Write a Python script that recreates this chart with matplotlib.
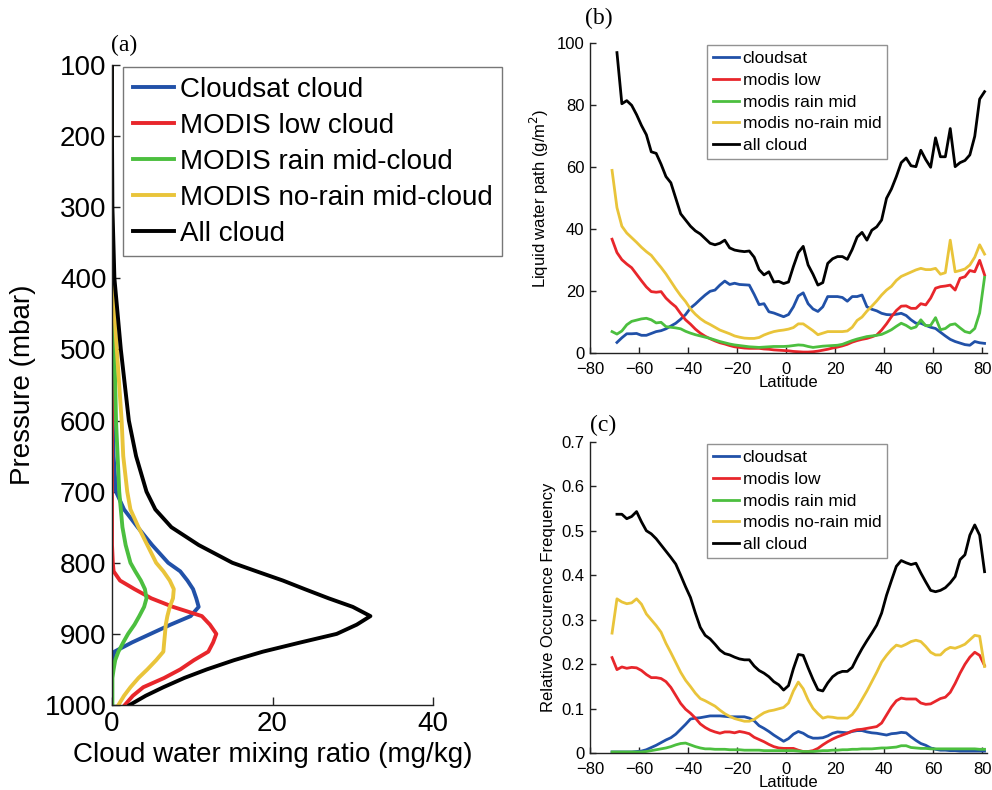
import numpy as np
import matplotlib
matplotlib.use("Agg")
import matplotlib.pyplot as plt

nan = np.nan

# ---------------- Panel (a) data ----------------
pressure = [100, 200, 300, 400, 450, 500, 550, 600, 650, 700, 725, 750, 775, 800, 812,
            825, 837, 850, 862, 875, 887, 900, 912, 925, 937, 950, 962, 975, 987, 1000]
a_cloudsat = [0, 0, 0, 0, 0, 0, 0, 0.1, 0.2, 0.5, 1.5, 3.2, 5.0, 7.0, 8.5,
              9.4, 10.1, 10.5, 10.8, 9.8, 7.3, 4.8, 2.5, 0.3, 0.1, 0, 0, 0, 0, 0]
a_modis_low = [0, 0, 0, 0, 0, 0, 0, 0, 0, 0, 0, 0, 0, 0.1, 0.2,
               1.0, 2.8, 4.9, 7.6, 11.2, 12.2, 13.0, 12.6, 12.0, 10.2, 8.5, 6.5, 3.9, 2.6, 1.6]
a_rain_mid = [0, 0, 0, 0, 0.1, 0.3, 0.4, 0.5, 0.7, 0.9, 1.1, 1.3, 1.7, 2.3, 2.9,
              3.6, 4.1, 4.3, 4.0, 3.4, 2.8, 2.0, 1.4, 0.8, 0.4, 0.2, 0.05, 0.05, 0.05, 0.05]
a_norain_mid = [0, 0, 0, 0.1, 0.3, 0.6, 0.9, 1.2, 1.4, 1.9, 2.3, 3.3, 4.4, 5.5, 6.4,
                7.2, 7.7, 7.6, 7.2, 6.9, 6.7, 6.6, 6.5, 6.4, 5.5, 4.4, 3.3, 2.3, 1.5, 0.8]
a_all = [0, 0, 0.05, 0.3, 0.7, 1.1, 1.6, 2.1, 3.0, 4.3, 5.4, 7.4, 10.8, 15.0, 18.0,
         21.3, 24.0, 27.0, 30.0, 32.2, 30.5, 28.0, 23.5, 18.8, 15.2, 11.8, 9.0, 6.4, 4.2, 2.2]
a_labels = ["Cloudsat cloud", "MODIS low cloud", "MODIS rain mid-cloud",
            "MODIS no-rain mid-cloud", "All cloud"]
a_xticks = [0, 20, 40]
a_yticks = [100, 200, 300, 400, 500, 600, 700, 800, 900, 1000]

# ---------------- Panels (b), (c) data ----------------
latitude = [-71, -69, -67, -65, -63, -61, -59, -57, -55, -53, -51, -49, -47, -45, -43, -41,
            -39, -37, -35, -33, -31, -29, -27, -25, -23, -21, -19, -17, -15, -13, -11, -9,
            -7, -5, -3, -1, 1, 3, 5, 7, 9, 11, 13, 15, 17, 19, 21, 23, 25, 27, 29, 31, 33,
            35, 37, 39, 41, 43, 45, 47, 49, 51, 53, 55, 57, 59, 61, 63, 65, 67, 69, 71, 73,
            75, 77, 79, 81]

b_cloudsat = [nan, 3.5, 5, 6.3, 6.3, 6.4, 5.8, 5.8, 6.4, 7, 7.3, 7.9, 8.8, 9.7, 11, 12.5,
              14.6, 15.9, 17.4, 18.8, 20, 20.4, 22, 23.3, 22.2, 22.6, 22.2, 22.1, 22, 19, 15.7, 16,
              13.4, 13, 12.4, 11.8, 12.5, 15, 18.5, 19.5, 16, 14.3, 13.5, 15, 18.3, 18.3, 18.3, 18,
              16.8, 18.3, 18.3, 18.8, 15, 14.2, 13.7, 12.9, 12.5, 12.4, 12.6, 12.9, 12.2, 10.8, 9.7,
              9.7, 9, 8.4, 8, 6.8, 5.6, 4.5, 3.8, 3.3, 2.8, 2.6, 3.8, 3.4, 3.2]
b_modis_low = [36.8, 32.5, 30.2, 28.8, 27.6, 25.5, 23.4, 21.4, 19.9, 19.7, 19.9, 17.8, 16.3, 15,
               12.8, 10.8, 9.4, 7.8, 6.5, 5.5, 4.7, 4, 3.4, 3, 2.5, 2.1, 1.9, 1.7, 1.6, 1.6, 1.6,
               1.4, 1.3, 1.1, 1.0, 0.9, 0.8, 0.6, 0.5, 0.4, 0.4, 0.5, 0.7, 1.0, 1.3, 1.7, 2.0, 2.4,
               2.9, 3.6, 4.1, 4.5, 4.8, 5.3, 5.9, 7.5, 9.5, 11.8, 13.8, 15.2, 15.3, 14.5, 14.5, 16,
               15.6, 17.8, 21, 21.5, 21.7, 22, 20.4, 24.2, 24.7, 26.7, 26.3, 30, 25.3]
b_rain_mid = [7, 6.2, 7.2, 9.2, 10.3, 10.7, 11.1, 11.3, 10.8, 9.8, 10, 8.6, 8.4, 8.2, 7.9, 7.1,
              6.5, 6, 5.6, 5.2, 4.8, 4.3, 3.8, 3.4, 3, 2.7, 2.5, 2.3, 2.1, 2, 1.9, 2, 2.1, 2.2,
              2.2, 2.2, 2.3, 2.5, 2.7, 2.6, 2.2, 1.9, 2.1, 2.3, 2.4, 2.5, 2.6, 2.9, 3.5, 4.1, 4.6,
              5, 5.4, 5.6, 5.8, 6.1, 6.8, 7.6, 8.7, 9.7, 9, 8, 8.5, 10.8, 8.9, 9, 11.5, 7.6, 8,
              9.2, 9.5, 8.2, 7, 6.6, 8, 13, 24.5]
b_norain_mid = [59, 47, 41, 38.8, 37.3, 35.8, 34.2, 32.8, 31.6, 29.6, 27.7, 25.6, 23.2, 20.8,
                18.6, 16.7, 14.3, 12.6, 11.2, 10.1, 9.3, 8.4, 7.5, 6.9, 6.3, 5.6, 5.2, 4.9, 4.8,
                4.8, 5.1, 5.9, 6.5, 7, 7.3, 7.5, 7.8, 8.3, 9.5, 9.5, 8.4, 7.3, 6, 6.5, 7, 7, 7, 7,
                7.2, 8.4, 10.6, 11.7, 13.6, 15.2, 16.9, 18.8, 20.4, 21.6, 23.5, 24.8, 25.5, 26.2,
                26.9, 27.4, 27, 27, 27.4, 25.5, 26, 36.5, 26.3, 26.7, 27.2, 28.5, 31, 35, 32]
b_all = [nan, 97, 80.5, 81.5, 80, 77, 73.5, 70.5, 65, 64.5, 61, 57, 55, 50, 45, 43, 41, 39.5,
         38.5, 37, 35.5, 35, 35.5, 36.5, 34, 33.3, 33, 32.8, 33, 31, 27, 25.3, 26.3, 23, 23.2,
         22.5, 23, 28, 32.5, 34.5, 28.5, 25.5, 22, 22.8, 29, 30.5, 31.2, 31.2, 30.3, 33.5, 37.5,
         39, 36.5, 39.7, 40.8, 43, 50, 53, 57, 61.5, 63, 60.5, 60.2, 65.5, 62.5, 60, 69.5, 63.4,
         63.4, 72.5, 60.2, 61.5, 62.2, 64, 70, 82, 84.4]

c_cloudsat = [0.003, 0.003, 0.003, 0.003, 0.003, 0.004, 0.005, 0.008, 0.013, 0.018, 0.024, 0.03,
              0.035, 0.043, 0.054, 0.065, 0.077, 0.079, 0.08, 0.082, 0.084, 0.084, 0.084, 0.083,
              0.082, 0.082, 0.082, 0.082, 0.079, 0.073, 0.062, 0.056, 0.049, 0.041, 0.034, 0.027,
              0.033, 0.043, 0.049, 0.045, 0.038, 0.034, 0.034, 0.035, 0.039, 0.045, 0.048, 0.047,
              0.046, 0.049, 0.051, 0.051, 0.048, 0.046, 0.045, 0.043, 0.041, 0.044, 0.045, 0.047,
              0.046, 0.037, 0.029, 0.022, 0.018, 0.012, 0.009, 0.007, 0.007, 0.006, 0.006, 0.005,
              0.005, 0.005, 0.005, 0.005, 0.005]
c_modis_low = [0.215, 0.188, 0.194, 0.191, 0.193, 0.192, 0.186, 0.177, 0.17, 0.17, 0.168, 0.161,
               0.148, 0.13, 0.112, 0.099, 0.09, 0.079, 0.066, 0.058, 0.052, 0.048, 0.045, 0.048,
               0.048, 0.046, 0.049, 0.047, 0.044, 0.036, 0.031, 0.026, 0.02, 0.015, 0.012, 0.011,
               0.011, 0.011, 0.007, 0.004, 0.004, 0.006, 0.011, 0.019, 0.026, 0.032, 0.037, 0.041,
               0.045, 0.05, 0.053, 0.054, 0.056, 0.058, 0.06, 0.068, 0.086, 0.104, 0.118, 0.124,
               0.122, 0.122, 0.122, 0.113, 0.11, 0.111, 0.117, 0.123, 0.126, 0.137, 0.157, 0.18,
               0.2, 0.216, 0.227, 0.22, 0.197]
c_rain_mid = [0.003, 0.003, 0.003, 0.003, 0.003, 0.003, 0.003, 0.004, 0.006, 0.008, 0.01, 0.012,
              0.015, 0.019, 0.022, 0.023, 0.019, 0.015, 0.012, 0.01, 0.01, 0.009, 0.009, 0.009,
              0.008, 0.008, 0.008, 0.007, 0.007, 0.007, 0.007, 0.006, 0.006, 0.006, 0.006, 0.006,
              0.006, 0.006, 0.005, 0.004, 0.004, 0.004, 0.005, 0.006, 0.006, 0.007, 0.007, 0.008,
              0.008, 0.009, 0.009, 0.01, 0.01, 0.01, 0.011, 0.012, 0.012, 0.013, 0.014, 0.017,
              0.017, 0.013, 0.012, 0.011, 0.011, 0.01, 0.01, 0.01, 0.01, 0.01, 0.01, 0.01, 0.01,
              0.01, 0.01, 0.009, 0.009]
c_norain_mid = [0.27, 0.347, 0.34, 0.336, 0.338, 0.347, 0.335, 0.313, 0.3, 0.287, 0.272, 0.247,
                0.226, 0.204, 0.182, 0.164, 0.15, 0.135, 0.123, 0.118, 0.112, 0.106, 0.097, 0.089,
                0.083, 0.078, 0.075, 0.072, 0.072, 0.076, 0.084, 0.091, 0.095, 0.097, 0.1, 0.103,
                0.113, 0.14, 0.16, 0.145, 0.12, 0.101, 0.089, 0.079, 0.082, 0.081, 0.079, 0.079,
                0.079, 0.087, 0.102, 0.121, 0.14, 0.161, 0.182, 0.205, 0.22, 0.233, 0.243, 0.24,
                0.245, 0.251, 0.254, 0.251, 0.24, 0.227, 0.221, 0.221, 0.232, 0.238, 0.236, 0.24,
                0.245, 0.255, 0.265, 0.263, 0.195]
c_all = [nan, 0.537, 0.537, 0.527, 0.532, 0.543, 0.52, 0.5, 0.493, 0.482, 0.468, 0.454, 0.44,
         0.425, 0.4, 0.374, 0.35, 0.315, 0.283, 0.265, 0.257, 0.245, 0.232, 0.224, 0.221, 0.216,
         0.212, 0.21, 0.21, 0.196, 0.186, 0.18, 0.172, 0.161, 0.154, 0.142, 0.152, 0.19, 0.222,
         0.22, 0.192, 0.166, 0.143, 0.14, 0.158, 0.172, 0.18, 0.184, 0.184, 0.193, 0.215, 0.235,
         0.253, 0.27, 0.288, 0.315, 0.355, 0.388, 0.42, 0.433, 0.428, 0.424, 0.427, 0.405, 0.385,
         0.366, 0.363, 0.366, 0.372, 0.383, 0.397, 0.435, 0.446, 0.49, 0.513, 0.49, 0.408]

bc_labels = ["cloudsat", "modis low", "modis rain mid", "modis no-rain mid", "all cloud"]
lat_ticks = [-80, -60, -40, -20, 0, 20, 40, 60, 80]
b_yticks = [0, 20, 40, 60, 80, 100]
c_yticks = [0, 0.1, 0.2, 0.3, 0.4, 0.5, 0.6, 0.7]
c_yticklabels = ["0", "0.1", "0.2", "0.3", "0.4", "0.5", "0.6", "0.7"]

colors = ["#2151a8", "#e8262b", "#4cbf3f", "#e9c43a", "#000000"]

# ---------------- Figure ----------------
W, H = 992, 790
plt.rcParams["font.family"] = ["Liberation Sans", "DejaVu Sans"]
fig = plt.figure(figsize=(W / 100, H / 100), dpi=100)


def fx(px):
    return px / W


def fy(py):
    return 1 - py / H


def style_axes(ax, fs, ticklen, xpad=4, ypad=4):
    for s in ("top", "right"):
        ax.spines[s].set_visible(False)
    for s in ("left", "bottom"):
        ax.spines[s].set_linewidth(1.0)
        ax.spines[s].set_color("#222222")
    ax.tick_params(direction="in", length=ticklen, width=1.0, labelsize=fs,
                   colors="#222222", labelcolor="black")
    ax.tick_params(axis="x", pad=xpad)
    ax.tick_params(axis="y", pad=ypad)


# Panel (a)
axA = fig.add_axes([fx(112), fy(705), fx(433) - fx(112), fy(65) - fy(705)])
series_a = [a_cloudsat, a_modis_low, a_rain_mid, a_norain_mid, a_all]
for vals, col, lab in zip(series_a, colors, a_labels):
    axA.plot(vals, pressure, color=col, lw=2.8, label=lab, solid_joinstyle="round")
axA.set_xlim(0, 40)
axA.set_ylim(1000, 100)
axA.set_xticks(a_xticks)
axA.set_yticks(a_yticks)
style_axes(axA, 20, 6)
axA.set_xlabel("Cloud water mixing ratio (mg/kg)", fontsize=20, labelpad=4)
axA.set_ylabel("Pressure (mbar)", fontsize=20, labelpad=6)
legA = axA.legend(loc="upper left", bbox_to_anchor=(fx(123), fy(67)),
                  bbox_transform=fig.transFigure, fontsize=20, frameon=True,
                  fancybox=False, borderaxespad=0, handlelength=1.5, handletextpad=0.2,
                  labelspacing=0.36, borderpad=0.35)
legA.get_frame().set_edgecolor("#555555")
legA.get_frame().set_linewidth(1.0)

# Panel (b)
axB = fig.add_axes([fx(590), fy(353.3), fx(987) - fx(590), fy(43.3) - fy(353.3)])
series_b = [b_cloudsat, b_modis_low, b_rain_mid, b_norain_mid, b_all]
for vals, col, lab in zip(series_b, colors, bc_labels):
    axB.plot(latitude, vals, color=col, lw=2.0, label=lab)
axB.set_xlim(-80, 82)
axB.set_ylim(0, 100)
axB.set_xticks(lat_ticks)
axB.set_yticks(b_yticks)
style_axes(axB, 12, 4, xpad=6)
axB.set_xlabel("Latitude", fontsize=12, labelpad=-1)
axB.set_ylabel("Liquid water path (g/m$^2$)", fontsize=12, labelpad=4)
legB = axB.legend(loc="upper left", bbox_to_anchor=(fx(707), fy(45)),
                  bbox_transform=fig.transFigure, fontsize=12.5, frameon=True,
                  fancybox=False, borderaxespad=0, handlelength=1.5, handletextpad=0.2,
                  labelspacing=0.38, borderpad=0.35)
legB.get_frame().set_edgecolor("#777777")
legB.get_frame().set_linewidth(1.0)

# Panel (c)
axC = fig.add_axes([fx(590), fy(753.3), fx(987) - fx(590), fy(441.7) - fy(753.3)])
series_c = [c_cloudsat, c_modis_low, c_rain_mid, c_norain_mid, c_all]
for vals, col, lab in zip(series_c, colors, bc_labels):
    axC.plot(latitude, vals, color=col, lw=2.0, label=lab)
axC.set_xlim(-80, 82)
axC.set_ylim(0, 0.7)
axC.set_xticks(lat_ticks)
axC.set_yticks(c_yticks)
axC.set_yticklabels(c_yticklabels)
style_axes(axC, 12, 4, xpad=6)
axC.set_xlabel("Latitude", fontsize=12, labelpad=-1)
axC.set_ylabel("Relative Occurence Frequency", fontsize=12, labelpad=4)
legC = axC.legend(loc="upper left", bbox_to_anchor=(fx(707), fy(444)),
                  bbox_transform=fig.transFigure, fontsize=12.5, frameon=True,
                  fancybox=False, borderaxespad=0, handlelength=1.5, handletextpad=0.2,
                  labelspacing=0.38, borderpad=0.35)
legC.get_frame().set_edgecolor("#777777")
legC.get_frame().set_linewidth(1.0)

# Panel letters
serif = ["Liberation Serif", "DejaVu Serif"]
fig.text(fx(124), fy(45), "(a)", family=serif, fontsize=17, ha="center", va="center")
fig.text(fx(599), fy(18), "(b)", family=serif, fontsize=17, ha="center", va="center")
fig.text(fx(603), fy(425), "(c)", family=serif, fontsize=17, ha="center", va="center")

fig.savefig("out.png", dpi=100)
